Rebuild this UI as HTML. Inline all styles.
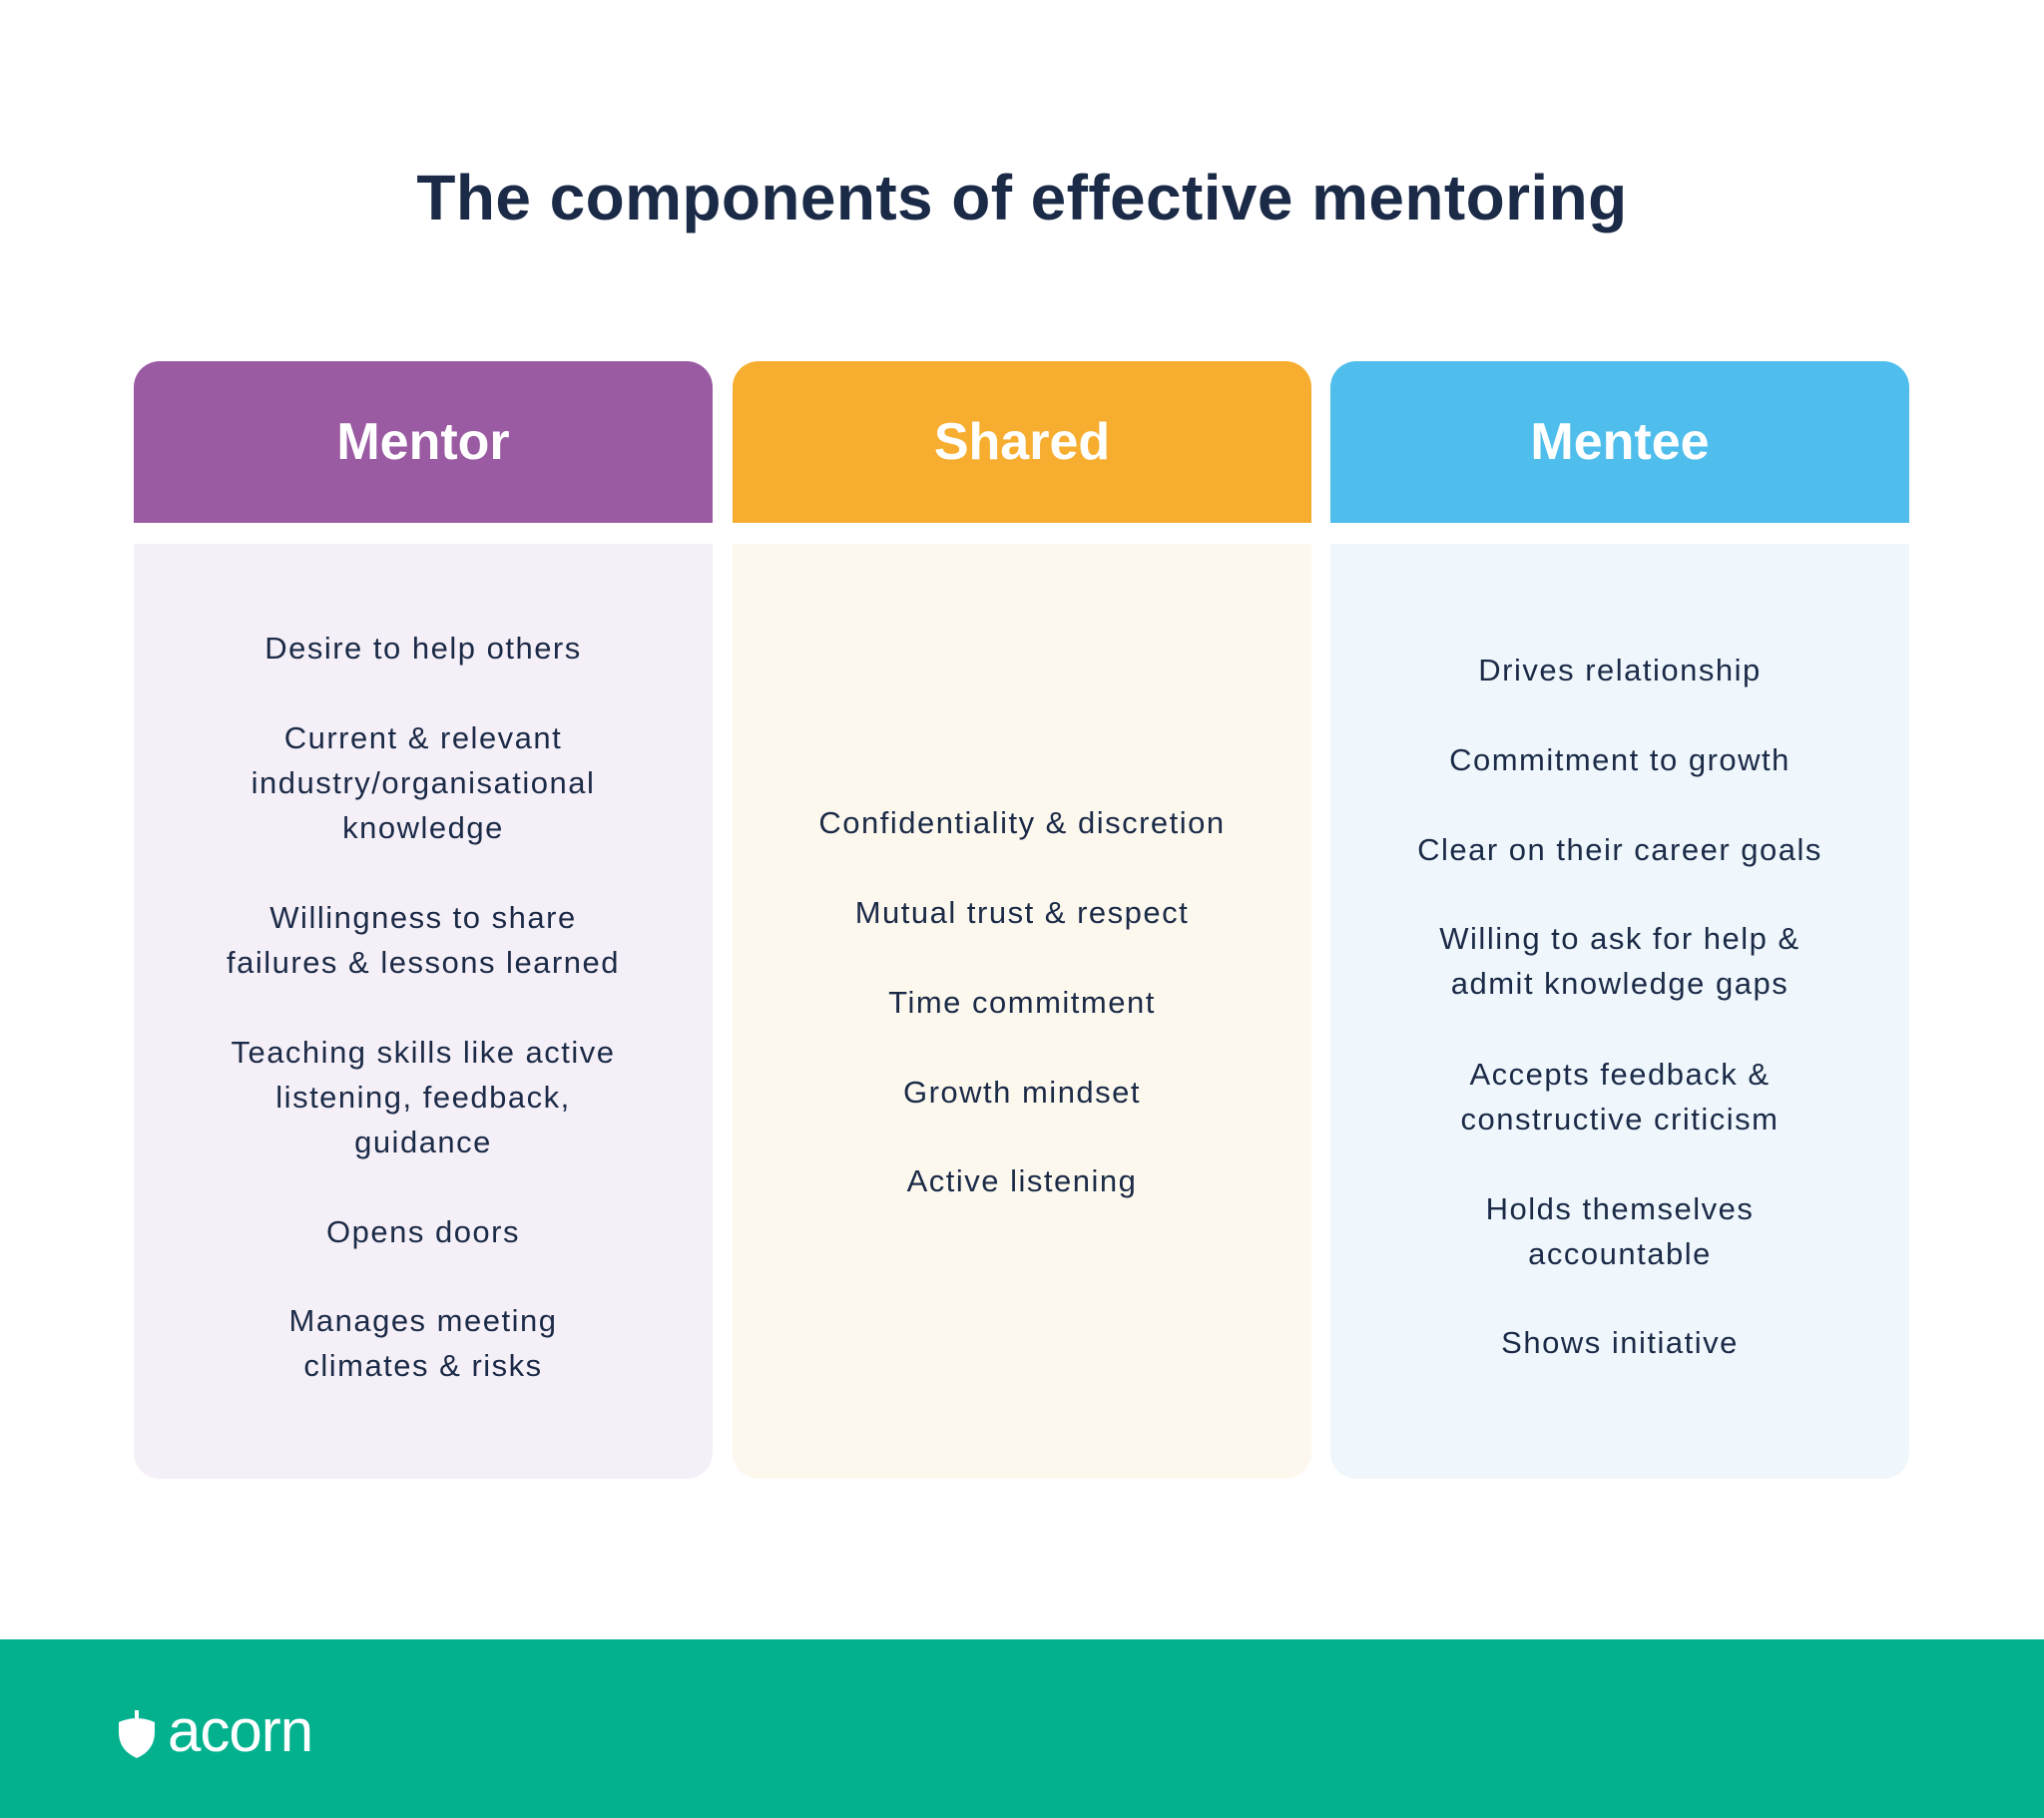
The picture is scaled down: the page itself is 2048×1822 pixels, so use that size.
<!DOCTYPE html>
<html><head><meta charset="utf-8"><style>
*{margin:0;padding:0;box-sizing:border-box}
body{width:2048px;height:1822px;background:#fff;position:relative;overflow:hidden;font-family:"Liberation Sans",sans-serif;color:#1b2a47}
.title{position:absolute;top:161px;left:0;width:2048px;text-align:center;font-size:64px;font-weight:bold;letter-spacing:0.4px}
.hd{position:absolute;top:362px;height:162px;width:580px;border-radius:26px 26px 0 0;color:#fff;font-weight:bold;font-size:52px;text-align:center;line-height:162px}
.bd{position:absolute;top:545px;height:937px;width:580px;border-radius:0 0 26px 26px}
.it{position:absolute;width:580px;text-align:center;font-size:31px;line-height:45px;color:#1b2a47;letter-spacing:1.5px}
.footer{position:absolute;top:1643px;left:0;width:2048px;height:179px;background:#03b18f}
.logo{position:absolute;left:168px;top:1700px;color:#fff;font-size:60px;letter-spacing:-1px}
</style></head><body>
<div class="title">The components of effective mentoring</div>

<div class="hd" style="left:134px;background:#9b5ba3">Mentor</div>
<div class="hd" style="left:734px;background:#f7ae30">Shared</div>
<div class="hd" style="left:1333px;background:#4fbeec">Mentee</div>

<div class="bd" style="left:134px;background:#f5f0f7"></div>
<div class="bd" style="left:734px;background:#fcf8ee"></div>
<div class="bd" style="left:1333px;background:#eff7fc"></div>

<div class="it" style="left:134px;top:627px">Desire to help others</div>
<div class="it" style="left:134px;top:717px">Current &amp; relevant<br>industry/organisational<br>knowledge</div>
<div class="it" style="left:134px;top:897px">Willingness to share<br>failures &amp; lessons learned</div>
<div class="it" style="left:134px;top:1032px">Teaching skills like active<br>listening, feedback,<br>guidance</div>
<div class="it" style="left:134px;top:1212px">Opens doors</div>
<div class="it" style="left:134px;top:1301px">Manages meeting<br>climates &amp; risks</div>

<div class="it" style="left:734px;top:802px">Confidentiality &amp; discretion</div>
<div class="it" style="left:734px;top:892px">Mutual trust &amp; respect</div>
<div class="it" style="left:734px;top:982px">Time commitment</div>
<div class="it" style="left:734px;top:1072px">Growth mindset</div>
<div class="it" style="left:734px;top:1161px">Active listening</div>

<div class="it" style="left:1333px;top:649px">Drives relationship</div>
<div class="it" style="left:1333px;top:739px">Commitment to growth</div>
<div class="it" style="left:1333px;top:829px">Clear on their career goals</div>
<div class="it" style="left:1333px;top:918px">Willing to ask for help &amp;<br>admit knowledge gaps</div>
<div class="it" style="left:1333px;top:1054px">Accepts feedback &amp;<br>constructive criticism</div>
<div class="it" style="left:1333px;top:1189px">Holds themselves<br>accountable</div>
<div class="it" style="left:1333px;top:1323px">Shows initiative</div>

<div class="footer">
<svg style="position:absolute;left:116px;top:71px" width="42" height="50" viewBox="0 0 42 50"><rect x="19" y="0" width="4" height="8" fill="#fff"/><path d="M3 12 Q21 4 39 12 L39 22 Q39 40 21 48 Q3 40 3 22 Z" fill="#fff"/></svg>
</div>
<div class="logo">acorn</div>
</body></html>
